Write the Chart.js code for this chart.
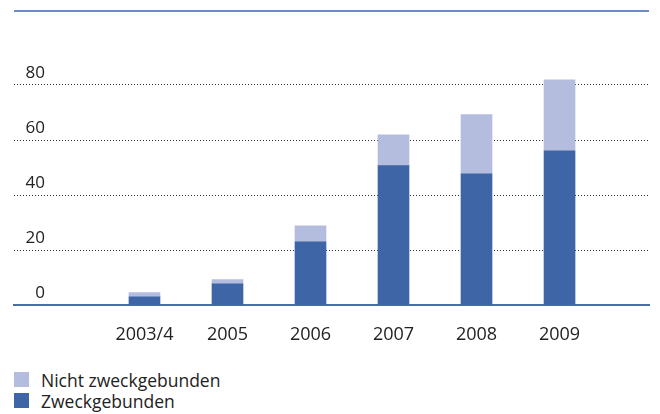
<!DOCTYPE html>
<html>
<head>
<meta charset="UTF-8">
<script src="https://cdn.jsdelivr.net/npm/chart.js"></script>
<style>
    body {
        margin: 0;
        background: #ffffff;
        font-family: 'Open Sans', sans-serif;
        color: #222222;
    }
    .wrap {
        position: relative;
        width: 660px;
        height: 414px;
        overflow: hidden;
    }
    .top-rule {
        position: absolute;
        left: 14px;
        top: 10px;
        width: 635px;
        height: 2px;
        background: #6b8cc0;
    }
    #chart {
        position: absolute;
        left: 0;
        top: 0;
    }
    .legend-item {
        position: absolute;
        left: 14px;
        height: 15px;
        font-size: 17.5px;
        line-height: 15px;
        white-space: nowrap;
    }
    .legend-box {
        position: absolute;
        left: 0;
        top: 0;
        width: 15px;
        height: 15px;
    }
    .legend-text {
        position: absolute;
        left: 27px;
        top: 1px;
    }
</style>
</head>
<body>
<div class="wrap">
    <div class="top-rule"></div>
    <canvas id="chart" width="660" height="345"></canvas>
    <div id="legend"></div>
</div>

<script>
// values
const years = ['2003/4', '2005', '2006', '2007', '2008', '2009'];
const zweckgebunden = [3.0, 7.7, 23.0, 50.7, 47.7, 56.1];
const nichtZweckgebunden = [1.5, 1.5, 5.8, 11.2, 21.5, 25.8];
const yTicks = [0, 20, 40, 60, 80];

const darkBlue = '#3e65a5';
const lightBlue = '#b5bddf';
const textColor = '#222222';

function toPoints(values) {
    return values.map((v, i) => ({ x: i, y: v }));
}

function draw() {
    const ctx = document.getElementById('chart').getContext('2d');
    const chart = new Chart(ctx, {
        type: 'bar',
        data: {
            datasets: [
                {
                    label: 'Zweckgebunden',
                    data: toPoints(zweckgebunden),
                    backgroundColor: darkBlue,
                    barThickness: 31
                },
                {
                    label: 'Nicht zweckgebunden',
                    data: toPoints(nichtZweckgebunden),
                    backgroundColor: lightBlue,
                    barThickness: 31
                }
            ]
        },
        options: {
            animation: false,
            responsive: false,
            devicePixelRatio: 1,
            layout: { padding: { left: 14, right: 11, top: 30, bottom: 0 } },
            plugins: {
                legend: { display: false },
                tooltip: { enabled: false }
            },
            scales: {
                x: {
                    type: 'linear',
                    stacked: true,
                    offset: false,
                    min: -1.572,
                    max: 6.078,
                    afterBuildTicks: (scale) => {
                        scale.ticks = years.map((_, i) => ({ value: i }));
                    },
                    afterFit: (scale) => { scale.height = 40; },
                    grid: { display: false, drawTicks: false },
                    border: { display: true, color: '#4a6ea9', width: 2 },
                    ticks: {
                        autoSkip: false,
                        maxRotation: 0,
                        padding: 19.5,
                        color: textColor,
                        font: { family: 'Open Sans', size: 18 },
                        callback: (v) => years[v] ?? ''
                    }
                },
                y: {
                    stacked: true,
                    min: 0,
                    max: 100,
                    afterBuildTicks: (scale) => {
                        scale.ticks = yTicks.map(v => ({ value: v }));
                    },
                    afterFit: (scale) => { scale.width = 0; },
                    grid: {
                        drawTicks: false,
                        lineWidth: 1,
                        color: (c) => c.tick && c.tick.value === 0 ? 'rgba(0,0,0,0)' : '#333333'
                    },
                    border: { display: false, dash: [1, 2] },
                    ticks: {
                        mirror: true,
                        crossAlign: 'far',
                        padding: 11.5,
                        labelOffset: -11.5,
                        color: textColor,
                        font: { family: 'Open Sans', size: 17 }
                    }
                }
            }
        }
    });

    // legend, listed light series first as in the original
    const legend = document.getElementById('legend');
    const order = [1, 0];
    order.forEach((dsIndex, row) => {
        const ds = chart.data.datasets[dsIndex];
        const item = document.createElement('div');
        item.className = 'legend-item';
        item.style.top = (372 + row * 21) + 'px';
        item.innerHTML = '<span class="legend-box" style="background:' + ds.backgroundColor + '"></span>' +
            '<span class="legend-text">' + ds.label + '</span>';
        legend.appendChild(item);
    });
}

if (document.fonts && document.fonts.load) {
    Promise.all([
        document.fonts.load('17px "Open Sans"'),
        document.fonts.load('18px "Open Sans"')
    ]).then(draw, draw);
} else {
    draw();
}
</script>
</body>
</html>
